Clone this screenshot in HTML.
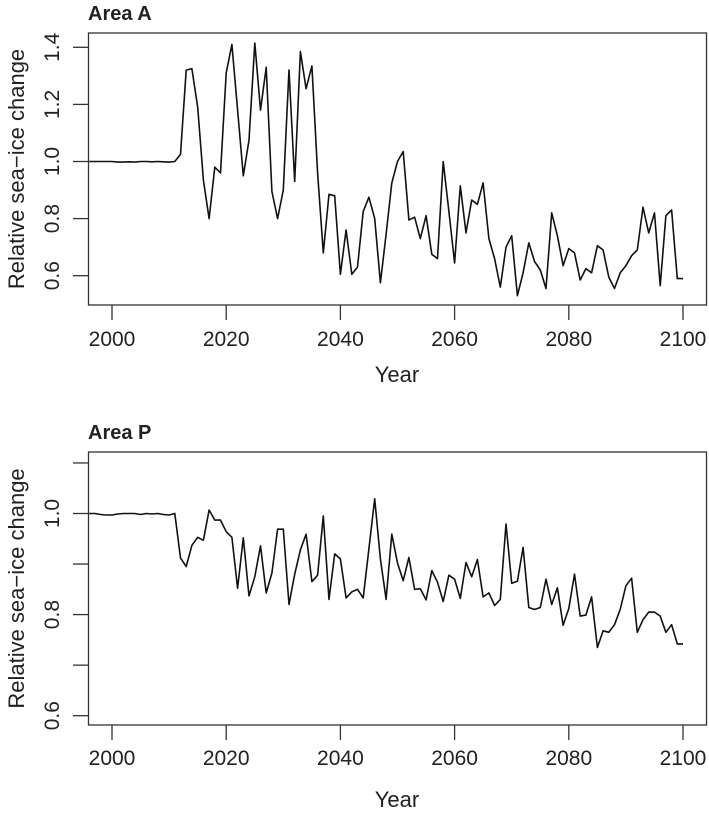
<!DOCTYPE html>
<html><head><meta charset="utf-8"><style>
body{margin:0;background:#fff;}
svg text{font-family:"Liberation Sans",Arial,sans-serif;fill:#222;}
</style></head><body>
<svg id="chart" width="709" height="814" xmlns="http://www.w3.org/2000/svg"></svg>
<script>
const years = [];
for (let y = 1996; y <= 2100; y++) years.push(y);
const areaA = [1.0,1.0,1.0,1.0,1.0,0.998,0.998,0.999,0.998,1.0,1.0,0.999,1.0,0.999,0.998,1.0,1.025,1.32,1.325,1.19,0.935,0.80,0.98,0.96,1.31,1.41,1.18,0.95,1.075,1.415,1.18,1.33,0.895,0.80,0.90,1.32,0.93,1.385,1.255,1.335,0.96,0.68,0.885,0.88,0.605,0.76,0.605,0.63,0.825,0.875,0.80,0.575,0.745,0.925,1.0,1.035,0.795,0.805,0.73,0.81,0.675,0.66,1.0,0.825,0.645,0.915,0.75,0.865,0.85,0.925,0.73,0.66,0.56,0.70,0.74,0.53,0.61,0.715,0.65,0.62,0.555,0.82,0.74,0.635,0.695,0.68,0.585,0.625,0.61,0.705,0.69,0.595,0.555,0.61,0.635,0.67,0.69,0.84,0.75,0.82,0.565,0.81,0.83,0.59,0.59];
const areaP = [1.0,1.0,0.998,0.997,0.997,0.999,1.0,1.0,1.0,0.998,1.0,0.999,1.0,0.998,0.997,1.0,0.912,0.895,0.937,0.953,0.947,1.007,0.987,0.987,0.964,0.953,0.852,0.952,0.837,0.875,0.936,0.843,0.882,0.969,0.969,0.82,0.88,0.928,0.959,0.865,0.878,0.995,0.83,0.92,0.91,0.833,0.845,0.85,0.833,0.93,1.029,0.91,0.83,0.959,0.902,0.867,0.913,0.85,0.851,0.829,0.887,0.864,0.826,0.878,0.87,0.832,0.903,0.875,0.909,0.835,0.843,0.818,0.83,0.979,0.862,0.866,0.933,0.814,0.81,0.814,0.87,0.82,0.853,0.779,0.812,0.88,0.797,0.799,0.835,0.735,0.768,0.765,0.78,0.81,0.857,0.872,0.765,0.79,0.805,0.805,0.797,0.765,0.78,0.742,0.742];
const xTicks = [2000,2020,2040,2060,2080,2100];
const yTicksA = [0.6,0.8,1.0,1.2,1.4];
const yTicksP = [0.6,0.7,0.8,0.9,1.0,1.1];
const yLabelsP = [0.6,0.8,1.0];

const NS = "http://www.w3.org/2000/svg";
const svg = document.getElementById('chart');
function el(tag, attrs, parent){const e=document.createElementNS(NS,tag);for(const k in attrs)e.setAttribute(k,attrs[k]);(parent||svg).appendChild(e);return e;}
const xScale = y => 112 + (y-2000)*5.71;

function panel(key, title, data, top, bottom, yOf, yTicks, yLabels, titleY, tickLabY, xTitleY){
  const g = el('g',{});
  
  
  const t = el('text',{x:88,y:titleY,'font-size':20,'font-weight':'bold'},g);
  t.textContent = title;
  
  
  const box = el('rect',{x:88.5,y:top,width:618,height:bottom-top,fill:'none',stroke:'#333','stroke-width':1.3},g);
  
  
  yTicks.forEach(v=>{
    const yy=yOf(v);
    const tk = el('line',{x1:73,x2:88.5,y1:yy,y2:yy,stroke:'#333','stroke-width':1.3},g);
    
    
    if(yLabels.some(l=>Math.abs(l-v)<1e-9)){
      const lb = el('text',{x:0,y:0,'font-size':21,'text-anchor':'middle',transform:`translate(59,${yy}) rotate(-90)`},g);
      lb.textContent = v.toFixed(1);
      
      
    }
  });
  xTicks.forEach(v=>{
    const xx=xScale(v);
    const tk = el('line',{x1:xx,x2:xx,y1:bottom,y2:bottom+15,stroke:'#333','stroke-width':1.3},g);
    
    
    const lb = el('text',{x:xx,y:tickLabY,'font-size':21,'text-anchor':'middle'},g);
    lb.textContent = v;
    
    
  });
  const xt = el('text',{x:397,y:xTitleY,'font-size':22,'text-anchor':'middle'},g);
  xt.textContent = 'Year';
  
  
  const yt = el('text',{x:0,y:0,'font-size':22,'text-anchor':'middle',transform:`translate(24,${(top+bottom)/2}) rotate(-90)`},g);
  yt.textContent = 'Relative sea\u2212ice change';
  
  
  const pts = data.map((v,i)=>xScale(years[i]).toFixed(1)+','+yOf(v).toFixed(1)).join(' ');
  const line = el('polyline',{points:pts,fill:'none',stroke:'#111','stroke-width':1.6,'stroke-linejoin':'round'},g);
  
  
}
panel('area-a','Area A',areaA,33,305,v=>161.5-(v-1)*285.5,yTicksA,yTicksA,20,346,382);
panel('area-p','Area P',areaP,452,725,v=>513.5-(v-1)*505.5,yTicksP,yLabelsP,439,765,807);
</script>
</body></html>
